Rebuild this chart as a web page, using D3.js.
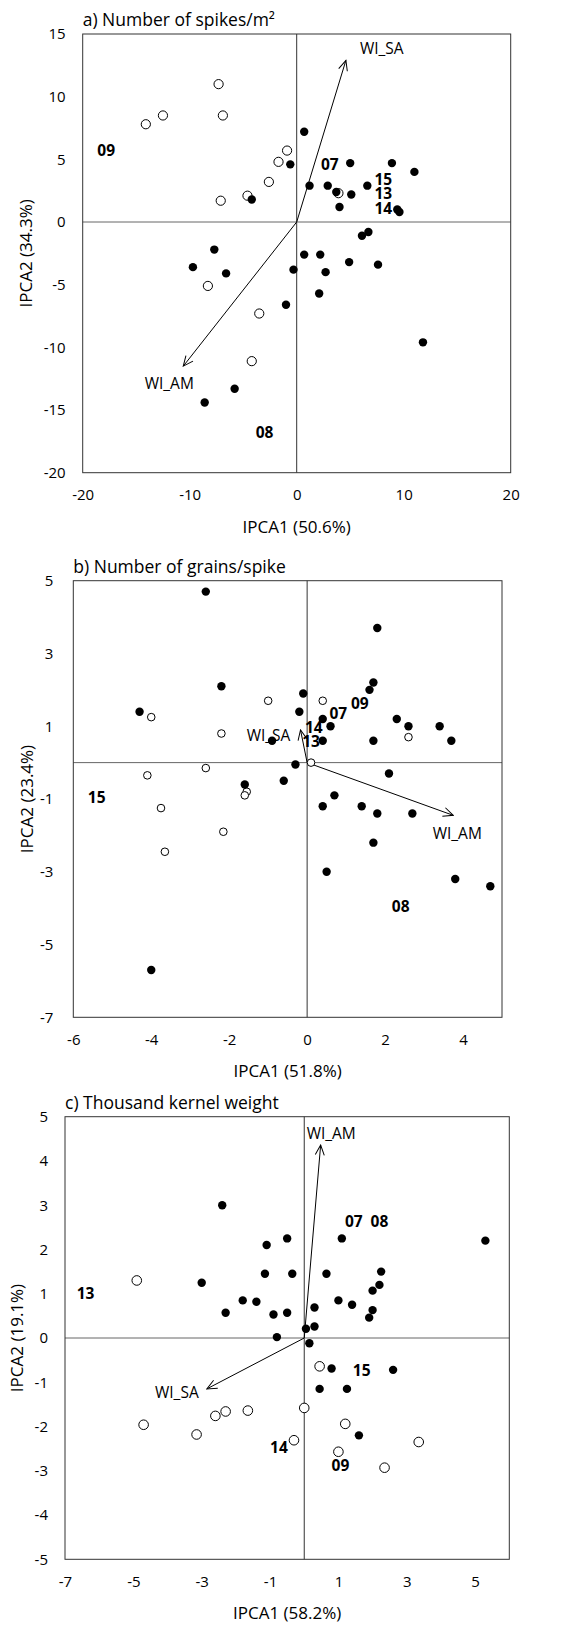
<!DOCTYPE html>
<html>
<head>
<meta charset="utf-8">
<script src="https://cdn.jsdelivr.net/npm/d3@7"></script>
<style>
  body { margin: 0; background: #fff; }
  svg { display: block; }
  text { font-family: "Open Sans", sans-serif; fill: #000; }
</style>
</head>
<body>
<svg id="chart"></svg>
<script>
// ---- panel a) Number of spikes/m2 ----
var aFilled = [[0.7,7.2],[-0.6,4.6],[-4.2,1.8],[1.2,2.9],[2.9,2.9],[3.7,2.4],[5.0,4.7],[5.1,2.2],
  [4.0,1.2],[6.6,2.9],[8.9,4.7],[11.0,4.0],[9.6,0.8],[9.4,1.0],[6.7,-0.8],[6.1,-1.1],[-7.7,-2.2],
  [-9.7,-3.6],[-6.6,-4.1],[0.7,-2.6],[2.2,-2.6],[-0.3,-3.8],[2.7,-4.0],[4.9,-3.2],[7.6,-3.4],
  [-1.0,-6.6],[2.1,-5.7],[11.8,-9.6],[-5.8,-13.3],[-8.6,-14.4]];
var aOpen = [[-7.3,11.0],[-12.5,8.5],[-14.1,7.8],[-6.9,8.5],[-0.9,5.7],[-1.7,4.8],[-2.6,3.2],
  [-4.6,2.1],[-7.1,1.7],[3.9,2.3],[-8.3,-5.1],[-3.5,-7.3],[-4.2,-11.1]];
var aArrows = [["WI_SA",4.6,12.9],["WI_AM",-10.6,-11.5]];
var aYears = [["09",-17.8,5.7],["07",3.1,4.6],["15",8.1,3.4],["13",8.1,2.3],["14",8.1,1.1],["08",-3.0,-16.8]];
var aXTicks = [-20,-10,0,10,20];
var aYTicks = [15,10,5,0,-5,-10,-15,-20];

// ---- panel b) Number of grains/spike ----
var bFilled = [[-2.6,4.7],[1.8,3.7],[-2.2,2.1],[1.7,2.2],[1.6,2.0],[-0.1,1.9],[-4.3,1.4],[-0.2,1.4],
  [0.4,1.2],[0.6,1.0],[2.3,1.2],[2.6,1.0],[3.4,1.0],[3.7,0.6],[-0.9,0.6],[0.4,0.6],[1.7,0.6],
  [-0.3,-0.05],[2.1,-0.3],[-0.6,-0.5],[-1.6,-0.6],[0.7,-0.9],[0.4,-1.2],[1.4,-1.2],[-4.0,-5.7],
  [0.5,-3.0],[1.7,-2.2],[1.8,-1.4],[2.7,-1.4],[3.8,-3.2],[4.7,-3.4]];
var bOpen = [[-1.0,1.7],[0.4,1.7],[-4.0,1.25],[-2.2,0.8],[2.6,0.7],[0.1,0.0],[-2.6,-0.15],
  [-4.1,-0.35],[-1.55,-0.8],[-1.6,-0.9],[-3.75,-1.25],[-2.15,-1.9],[-3.65,-2.45]];
var bArrows = [["WI_SA",-0.17,0.9],["WI_AM",3.75,-1.45]];
var bYears = [["14",0.17,0.95],["13",0.1,0.59],["07",0.8,1.34],["09",1.35,1.63],["15",-5.4,-0.97],["08",2.4,-3.96]];
var bXTicks = [-6,-4,-2,0,2,4];
var bYTicks = [5,3,1,-1,-3,-5,-7];

// ---- panel c) Thousand kernel weight ----
var cFilled = [[-2.4,3.0],[1.1,2.25],[5.3,2.2],[-0.5,2.25],[-1.1,2.1],[-1.15,1.45],[-0.35,1.45],
  [0.65,1.45],[2.25,1.5],[2.2,1.2],[2.0,1.07],[-3.0,1.25],[-1.8,0.85],[-1.4,0.82],[-2.3,0.57],
  [-0.9,0.53],[-0.5,0.57],[0.3,0.69],[1.0,0.85],[1.4,0.75],[2.0,0.63],[1.9,0.46],[0.05,0.21],
  [0.3,0.26],[-0.8,0.02],[0.15,-0.12],[0.8,-0.69],[2.6,-0.72],[0.45,-1.15],[1.25,-1.15],[1.6,-2.2]];
var cOpen = [[-4.9,1.3],[0.45,-0.64],[0.0,-1.58],[-1.65,-1.64],[-2.3,-1.66],[-2.6,-1.76],
  [-4.7,-1.96],[-3.15,-2.18],[1.2,-1.94],[-0.3,-2.31],[1.0,-2.57],[3.35,-2.35],[2.35,-2.93]];
var cArrows = [["WI_AM",0.48,4.36],["WI_SA",-2.85,-1.15]];
var cYears = [["07",1.45,2.62],["08",2.2,2.62],["13",-6.4,1.0],["15",1.68,-0.73],["14",-0.74,-2.47],["09",1.06,-2.89]];
var cXTicks = [-7,-5,-3,-1,1,3,5];
var cYTicks = [5,4,3,2,1,0,-1,-2,-3,-4,-5];

var svg = d3.select("#chart").attr("width",561).attr("height",1626);

var marker = svg.append("defs").append("marker")
  .attr("id","arrow")
  .attr("markerUnits","userSpaceOnUse")
  .attr("markerWidth",12).attr("markerHeight",12)
  .attr("viewBox","0 0 12 12")
  .attr("refX",11).attr("refY",6)
  .attr("orient","auto");
marker.append("path").attr("d","M1,1.5 L11,6 L1,10.5")
  .attr("fill","none").attr("stroke","#000").attr("stroke-width",1);

var panels = [
  {title:"a) Number of spikes/m\u00b2", xTitle:"IPCA1 (50.6%)", yTitle:"IPCA2 (34.3%)",
   xd:[-20,20], yd:[-20,15], xt:aXTicks, yt:aYTicks, filled:aFilled, open:aOpen, arrows:aArrows, years:aYears,
   l:82.7, r:510.7, t:34, b:472.7, openR:4.6, arrowLab:[[14,-6,"start"],[-14,23,"middle"]], yTitleX:26, yPad:17},
  {title:"b) Number of grains/spike", xTitle:"IPCA1 (51.8%)", yTitle:"IPCA2 (23.4%)",
   xd:[-6,5], yd:[-7,5], xt:bXTicks, yt:bYTicks, filled:bFilled, open:bOpen, arrows:bArrows, years:bYears,
   l:73.3, r:502, t:580.7, b:1017.3, openR:3.8, arrowLab:[[-32,11,"middle"],[4,24,"middle"]], yTitleX:27, yPad:20},
  {title:"c) Thousand kernel weight", xTitle:"IPCA1 (58.2%)", yTitle:"IPCA2 (19.1%)",
   xd:[-7,6], yd:[-5,5], xt:cXTicks, yt:cYTicks, filled:cFilled, open:cOpen, arrows:cArrows, years:cYears,
   l:65, r:509.3, t:1116.7, b:1559.3, openR:4.8, arrowLab:[[-14,-6,"start"],[-30,9,"middle"]], yTitleX:17, yPad:17}
];

panels.forEach(function(p){
  var x = d3.scaleLinear().domain(p.xd).range([p.l,p.r]);
  var y = d3.scaleLinear().domain(p.yd).range([p.b,p.t]);
  var g = svg.append("g");

  // zero lines
  g.append("line").attr("x1",x(0)).attr("x2",x(0)).attr("y1",p.t).attr("y2",p.b)
    .attr("stroke","#333").attr("stroke-width",1);
  g.append("line").attr("x1",p.l).attr("x2",p.r).attr("y1",y(0)).attr("y2",y(0))
    .attr("stroke","#666").attr("stroke-width",1);

  // frame
  g.append("rect").attr("x",p.l).attr("y",p.t).attr("width",p.r-p.l).attr("height",p.b-p.t)
    .attr("fill","none").attr("stroke","#333").attr("stroke-width",1);

  // axes
  var fmt = function(d){ return String(d); };
  var ax = g.append("g").attr("transform","translate(0,"+p.b+")")
    .call(d3.axisBottom(x).tickValues(p.xt).tickSize(0).tickPadding(17).tickFormat(fmt));
  var ay = g.append("g").attr("transform","translate("+p.l+",0)")
    .call(d3.axisLeft(y).tickValues(p.yt).tickSize(0).tickPadding(p.yPad).tickFormat(fmt));
  [ax,ay].forEach(function(a){
    a.select(".domain").remove();
    a.selectAll("text").style("font-family","'Open Sans', sans-serif").style("font-size","15px").attr("fill","#000");
  });

  // arrows
  g.selectAll("line.arr").data(p.arrows).enter().append("line")
    .attr("x1",x(0)).attr("y1",y(0))
    .attr("x2",function(d){return x(d[1]);}).attr("y2",function(d){return y(d[2]);})
    .attr("stroke","#000").attr("stroke-width",1).attr("marker-end","url(#arrow)");
  g.selectAll("text.arrlab").data(p.arrows).enter().append("text")
    .attr("x",function(d,i){return x(d[1])+p.arrowLab[i][0];})
    .attr("y",function(d,i){return y(d[2])+p.arrowLab[i][1];})
    .attr("text-anchor",function(d,i){return p.arrowLab[i][2];})
    .style("font-size","15.5px")
    .text(function(d){return d[0];});

  // points
  g.selectAll("circle.open").data(p.open).enter().append("circle")
    .attr("cx",function(d){return x(d[0]);}).attr("cy",function(d){return y(d[1]);})
    .attr("r",p.openR).attr("fill","#fff").attr("stroke","#000").attr("stroke-width",1);
  g.selectAll("circle.fill").data(p.filled).enter().append("circle")
    .attr("cx",function(d){return x(d[0]);}).attr("cy",function(d){return y(d[1]);})
    .attr("r",4.2).attr("fill","#000");

  // year labels
  g.selectAll("text.yr").data(p.years).enter().append("text")
    .attr("x",function(d){return x(d[1]);}).attr("y",function(d){return y(d[2]);})
    .attr("text-anchor","middle").attr("dy","0.35em")
    .style("font-size","15.5px").style("font-weight","bold")
    .text(function(d){return d[0];});

  // titles
  g.append("text").attr("x",p.l).attr("y",p.t-8).style("font-size","17.5px").text(p.title);
  g.append("text").attr("x",(p.l+p.r)/2).attr("y",p.b+60).attr("text-anchor","middle")
    .style("font-size","17px").text(p.xTitle);
  g.append("text").attr("transform","translate("+p.yTitleX+","+((p.t+p.b)/2)+") rotate(-90)")
    .attr("text-anchor","middle").attr("dy","0.35em").style("font-size","17px").text(p.yTitle);
});
</script>
</body>
</html>
